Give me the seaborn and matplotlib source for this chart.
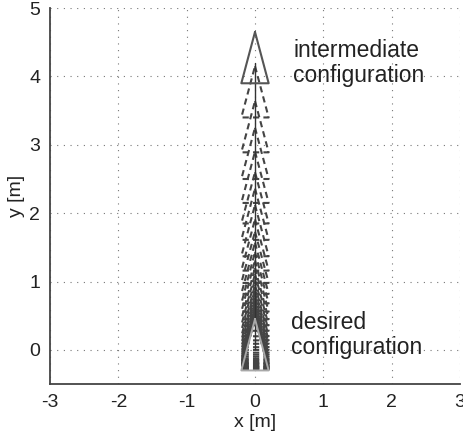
import numpy as np
import pandas as pd
import matplotlib
matplotlib.use("Agg")
import matplotlib.pyplot as plt
import seaborn as sns

# Robot poses (heading straight up, x = 0)
pose_x = [0.0] * 37
pose_y = [4.20, 3.70, 3.19, 2.80, 2.45, 2.15, 1.91, 1.67, 1.46, 1.28, 1.12,
          0.98, 0.86, 0.75, 0.66, 0.58, 0.50, 0.44, 0.39, 0.34, 0.30, 0.26,
          0.23, 0.20, 0.17, 0.15, 0.13, 0.11, 0.10, 0.09, 0.07, 0.06, 0.05,
          0.04, 0.03, 0.02, 0.01]
desired_pose = (0.0, 0.0)
x_ticks = [-3, -2, -1, 0, 1, 2, 3]
y_ticks = [0, 1, 2, 3, 4, 5]
labels = ["intermediate\nconfiguration", "desired\nconfiguration"]

# triangle shape (robot outline) relative to pose
TIP, BACK, HALF = 0.45, 0.30, 0.20

def tri(px, py):
    xs = [px, px + HALF, px - HALF, px]
    ys = [py + TIP, py - BACK, py - BACK, py + TIP]
    return xs, ys

rows = []
for i, (px, py) in enumerate(zip(pose_x[1:], pose_y[1:])):
    xs, ys = tri(px, py)
    for k, (a, b) in enumerate(zip(xs, ys)):
        rows.append({"unit": i, "order": k, "x": a, "y": b})
dashed = pd.DataFrame(rows)

sns.set_style("white")
plt.rcParams["font.family"] = ["Liberation Sans", "DejaVu Sans"]

fig = plt.figure(figsize=(4.63, 4.36), dpi=100)
ax = fig.add_axes([0.108, 0.119, 0.8855, 0.8625])

# grid
for gx in x_ticks:
    ax.axvline(gx, color="#777777", lw=0.8, ls=(0, (1, 5)), zorder=0)
for gy in y_ticks:
    ax.axhline(gy, color="#777777", lw=0.8, ls=(0, (1, 5)), zorder=0)

# intermediate dashed triangles
sns.lineplot(data=dashed, x="x", y="y", units="unit", estimator=None,
             sort=False, color="#444444", lw=1.5, ax=ax,
             linestyle=(0, (3, 2)), legend=False)

# path
path = pd.DataFrame({"x": pose_x, "y": pose_y})
sns.lineplot(data=path, x="x", y="y", sort=False, estimator=None,
             color="#333333", lw=1.0, ax=ax)

# intermediate configuration (solid)
xs, ys = tri(pose_x[0], pose_y[0])
sns.lineplot(x=xs, y=ys, sort=False, estimator=None, color="#555555",
             lw=1.5, ax=ax)
# desired configuration
xs, ys = tri(*desired_pose)
sns.lineplot(x=xs, y=ys, sort=False, estimator=None, color="#a8a8a8",
             lw=1.4, ax=ax)

ax.text(0.56, 4.2, labels[0], fontsize=16.5, color="#222222",
        va="center", ha="left", linespacing=1.1)
ax.text(0.53, 0.22, labels[1], fontsize=16.5, color="#222222",
        va="center", ha="left", linespacing=1.1)

ax.set_xlim(-3, 3)
ax.set_ylim(-0.5, 5)
ax.set_xticks(x_ticks)
ax.set_yticks(y_ticks)
ax.set_xticklabels([str(t) for t in x_ticks])
ax.set_yticklabels([str(t) for t in y_ticks])
ax.tick_params(direction="in", length=4, width=1, colors="#444444",
               labelsize=14, labelcolor="#222222", pad=7)
for s in ["top", "right"]:
    ax.spines[s].set_visible(False)
for s in ["left", "bottom"]:
    ax.spines[s].set_color("#444444")
    ax.spines[s].set_linewidth(1.3)
ax.set_xlabel("x [m]", fontsize=14, color="#222222", labelpad=2)
ax.set_ylabel("y [m]", fontsize=14, color="#222222", labelpad=3)

fig.savefig("out.png", dpi=100)
